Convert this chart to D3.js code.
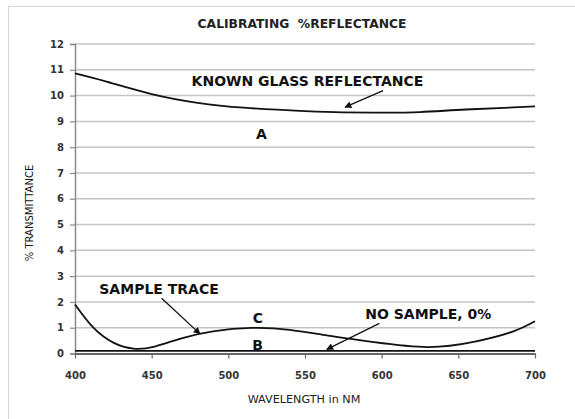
<!DOCTYPE html>
<html>
<head>
<meta charset="utf-8">
<script src="https://cdn.jsdelivr.net/npm/d3@7"></script>
<style>
  html, body { margin: 0; padding: 0; background: #fff; }
  svg { display: block; font-family: "DejaVu Sans", Verdana, sans-serif; }
</style>
</head>
<body>
<svg id="chart" width="575" height="419"></svg>
<script>
// ---- data ----
const title = "CALIBRATING  %REFLECTANCE";
const xTitle = "WAVELENGTH in NM";
const yTitle = "% TRANSMITTANCE";
const xTicks = [400, 450, 500, 550, 600, 650, 700];
const yTicks = [0, 1, 2, 3, 4, 5, 6, 7, 8, 9, 10, 11, 12];

const glassWavelength = [400, 420, 450, 480, 510, 550, 575, 600, 625, 655, 700];
const glassValues     = [10.86, 10.55, 10.06, 9.72, 9.53, 9.40, 9.35, 9.34, 9.36, 9.46, 9.58];

const sampleWavelength = [400, 412, 425, 438, 452, 470, 490, 515, 540, 565, 595, 630, 660, 685, 700];
const sampleValues     = [1.90, 1.00, 0.42, 0.19, 0.27, 0.60, 0.86, 0.99, 0.92, 0.69, 0.44, 0.25, 0.45, 0.84, 1.25];

const zeroWavelength = [400, 550, 700];
const zeroValues     = [0.1, 0.1, 0.1];

// annotations: [text, wavelength, value]
const labels = [
  ["KNOWN GLASS REFLECTANCE", 551.6, 10.37],
  ["A", 521.5, 8.32],
  ["SAMPLE TRACE", 454.8, 2.31],
  ["C", 519.3, 1.18],
  ["B", 519.1, 0.14],
  ["NO SAMPLE, 0%", 630.4, 1.34]
];
// arrows: [fromX, fromY, toX, toY] in data units
const arrows = [
  [600.9, 10.19, 576.1, 9.55],
  [456.5, 2.14, 481.5, 0.76],
  [598.5, 1.17, 564.2, 0.16]
];

// ---- drawing ----
const svg = d3.select("#chart");
const x = d3.scaleLinear().domain([400, 700]).range([75, 535]);
const y = d3.scaleLinear().domain([0, 12]).range([353.5, 44]);

// outer border (cropped on right/bottom)
svg.append("rect").attr("x", 8.5).attr("y", 6.5).attr("width", 600).attr("height", 500)
  .attr("fill", "none").attr("stroke", "#d4d4d4").attr("stroke-width", 1);

// gridlines
svg.append("g").selectAll("line").data(yTicks.filter(d => d > 0)).join("line")
  .attr("x1", x(400)).attr("x2", x(700))
  .attr("y1", d => y(d)).attr("y2", d => y(d))
  .attr("stroke", "#c4c4c4").attr("stroke-width", 1.5);

// y axis
const yAxis = svg.append("g").attr("transform", `translate(${x(400)},0)`)
  .call(d3.axisLeft(y).tickValues(yTicks).tickSize(5).tickPadding(6));
yAxis.select(".domain").attr("stroke", "#8a8a8a").attr("stroke-width", 1.5);
yAxis.selectAll(".tick line").attr("stroke", "#8a8a8a").attr("stroke-width", 1.2);
yAxis.selectAll("text").attr("font-size", 10).attr("font-weight", "bold")
  .attr("fill", "#333").attr("font-family", "DejaVu Sans");

// x axis
const xAxis = svg.append("g").attr("transform", `translate(0,${y(0)})`)
  .call(d3.axisBottom(x).tickValues(xTicks).tickSize(5).tickPadding(13).tickSizeOuter(0));
xAxis.select(".domain").attr("stroke", "#666").attr("stroke-width", 1.8);
xAxis.selectAll(".tick line").attr("stroke", "#666").attr("stroke-width", 1.2);
xAxis.selectAll("text").attr("font-size", 10).attr("font-weight", "bold")
  .attr("fill", "#333").attr("font-family", "DejaVu Sans");

// series
const line = d3.line().curve(d3.curveNatural);
function drawSeries(xs, vs, w) {
  svg.append("path")
    .attr("d", line(xs.map((d, i) => [x(d), y(vs[i])])))
    .attr("fill", "none").attr("stroke", "#111").attr("stroke-width", w);
}
drawSeries(zeroWavelength, zeroValues, 1.6);
drawSeries(glassWavelength, glassValues, 1.8);
drawSeries(sampleWavelength, sampleValues, 1.8);

// arrow marker
svg.append("defs").append("marker")
  .attr("id", "arrow").attr("viewBox", "0 0 10 10").attr("refX", 9).attr("refY", 5)
  .attr("markerWidth", 8).attr("markerHeight", 7).attr("markerUnits", "userSpaceOnUse")
  .attr("orient", "auto")
  .append("path").attr("d", "M0,0 L10,5 L0,10 z").attr("fill", "#111");

svg.append("g").selectAll("line").data(arrows).join("line")
  .attr("x1", d => x(d[0])).attr("y1", d => y(d[1]))
  .attr("x2", d => x(d[2])).attr("y2", d => y(d[3]))
  .attr("stroke", "#111").attr("stroke-width", 1.3)
  .attr("marker-end", "url(#arrow)");

// annotation labels
svg.append("g").selectAll("text").data(labels).join("text")
  .attr("x", d => x(d[1])).attr("y", d => y(d[2]))
  .attr("text-anchor", "middle")
  .attr("font-size", 14).attr("font-weight", "bold").attr("fill", "#111")
  .text(d => d[0]);

// title
svg.append("text").attr("x", 302).attr("y", 28).attr("text-anchor", "middle")
  .style("white-space", "pre")
  .attr("font-size", 12.3).attr("font-weight", "bold").attr("fill", "#222")
  .text(title);

// axis titles
svg.append("text").attr("x", 304).attr("y", 403).attr("text-anchor", "middle")
  .attr("font-size", 11.2).attr("fill", "#222").text(xTitle);
svg.append("text").attr("transform", "translate(33,213) rotate(-90)")
  .attr("text-anchor", "middle").attr("font-size", 10).attr("fill", "#111")
  .text(yTitle);
</script>
</body>
</html>
